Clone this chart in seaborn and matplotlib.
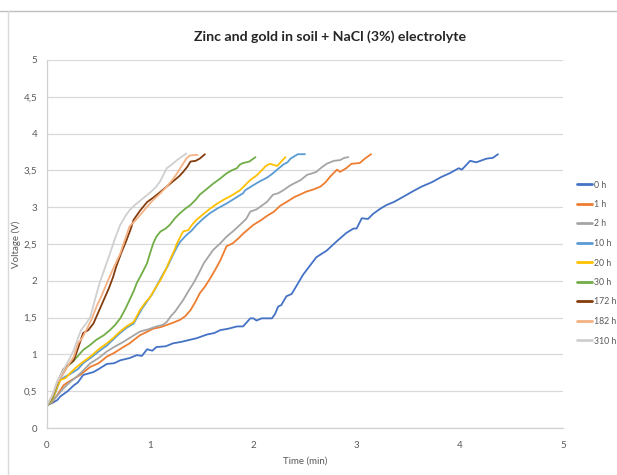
import pandas as pd
import numpy as np
import seaborn as sns
import matplotlib
matplotlib.use("Agg")
import matplotlib.pyplot as plt
from matplotlib.lines import Line2D

# (time in min, voltage in V)
h0 = [(0.0, 0.31), (0.05, 0.34), (0.1, 0.38), (0.13, 0.43), (0.2, 0.5), (0.26, 0.58), (0.3, 0.62),
      (0.35, 0.72), (0.45, 0.76), (0.5, 0.8), (0.58, 0.87), (0.65, 0.88), (0.71, 0.92), (0.8, 0.95),
      (0.87, 0.99), (0.92, 0.98), (0.97, 1.07), (1.02, 1.05), (1.06, 1.10), (1.15, 1.11), (1.22, 1.15),
      (1.3, 1.17), (1.39, 1.20), (1.45, 1.22), (1.55, 1.27), (1.62, 1.29), (1.68, 1.33), (1.76, 1.35),
      (1.84, 1.38), (1.9, 1.38), (1.97, 1.49), (2.0, 1.49), (2.03, 1.46), (2.08, 1.49), (2.18, 1.49),
      (2.21, 1.55), (2.24, 1.65), (2.27, 1.67), (2.32, 1.79), (2.37, 1.82), (2.43, 1.96), (2.48, 2.08),
      (2.55, 2.21), (2.61, 2.32), (2.71, 2.41), (2.81, 2.54), (2.9, 2.65), (2.97, 2.71), (3.0, 2.71),
      (3.05, 2.85), (3.11, 2.84), (3.16, 2.91), (3.23, 2.98), (3.29, 3.03), (3.36, 3.07), (3.45, 3.14),
      (3.55, 3.22), (3.63, 3.28), (3.73, 3.34), (3.82, 3.41), (3.9, 3.46), (3.99, 3.53), (4.02, 3.51),
      (4.1, 3.63), (4.16, 3.61), (4.26, 3.66), (4.32, 3.67), (4.37, 3.72)]

h1 = [(0.0, 0.31), (0.05, 0.35), (0.1, 0.45), (0.16, 0.58), (0.2, 0.62), (0.26, 0.67), (0.32, 0.72),
      (0.42, 0.83), (0.5, 0.88), (0.58, 0.97), (0.65, 1.02), (0.74, 1.10), (0.8, 1.15), (0.9, 1.26),
      (0.96, 1.30), (1.03, 1.35), (1.1, 1.37), (1.16, 1.40), (1.22, 1.43), (1.29, 1.47), (1.34, 1.52),
      (1.39, 1.60), (1.44, 1.72), (1.48, 1.83), (1.53, 1.92), (1.58, 2.03), (1.63, 2.15), (1.68, 2.28),
      (1.74, 2.47), (1.8, 2.51), (1.85, 2.57), (1.9, 2.64), (1.95, 2.70), (2.0, 2.76), (2.07, 2.82),
      (2.13, 2.88), (2.2, 2.94), (2.26, 3.02), (2.32, 3.07), (2.4, 3.14), (2.45, 3.17), (2.51, 3.21),
      (2.58, 3.24), (2.65, 3.28), (2.7, 3.34), (2.74, 3.41), (2.81, 3.51), (2.84, 3.48), (2.9, 3.53),
      (2.95, 3.59), (3.03, 3.60), (3.08, 3.66), (3.14, 3.72)]

h2 = [(0.0, 0.30), (0.05, 0.36), (0.1, 0.44), (0.16, 0.54), (0.22, 0.62), (0.29, 0.70), (0.35, 0.78),
      (0.42, 0.88), (0.5, 0.95), (0.58, 1.04), (0.65, 1.10), (0.74, 1.17), (0.82, 1.24), (0.9, 1.31),
      (0.98, 1.34), (1.06, 1.38), (1.12, 1.40), (1.16, 1.44), (1.2, 1.52), (1.24, 1.58), (1.28, 1.66),
      (1.32, 1.74), (1.37, 1.86), (1.42, 1.97), (1.47, 2.10), (1.52, 2.24), (1.56, 2.32), (1.61, 2.42),
      (1.68, 2.51), (1.74, 2.60), (1.8, 2.67), (1.87, 2.76), (1.93, 2.84), (1.97, 2.94), (2.03, 2.97),
      (2.06, 3.00), (2.13, 3.07), (2.19, 3.17), (2.24, 3.19), (2.29, 3.23), (2.35, 3.29), (2.39, 3.32),
      (2.46, 3.37), (2.52, 3.44), (2.57, 3.46), (2.61, 3.48), (2.66, 3.54), (2.71, 3.59), (2.78, 3.63),
      (2.84, 3.64), (2.88, 3.67), (2.92, 3.68)]

h10 = [(0.0, 0.31), (0.05, 0.37), (0.1, 0.55), (0.13, 0.66), (0.18, 0.70), (0.22, 0.73), (0.3, 0.80),
       (0.35, 0.88), (0.42, 0.95), (0.51, 1.05), (0.58, 1.12), (0.64, 1.20), (0.7, 1.28), (0.77, 1.36),
       (0.84, 1.42), (0.88, 1.52), (0.92, 1.62), (0.97, 1.72), (1.02, 1.82), (1.07, 1.95), (1.12, 2.08),
       (1.17, 2.20), (1.22, 2.35), (1.26, 2.46), (1.29, 2.53), (1.35, 2.62), (1.4, 2.68), (1.45, 2.76),
       (1.51, 2.84), (1.58, 2.92), (1.66, 2.99), (1.74, 3.05), (1.82, 3.12), (1.9, 3.19), (1.92, 3.23),
       (2.0, 3.30), (2.06, 3.35), (2.13, 3.40), (2.18, 3.45), (2.23, 3.51), (2.29, 3.58), (2.33, 3.61),
       (2.36, 3.66), (2.43, 3.72), (2.5, 3.72)]

h20 = [(0.0, 0.31), (0.05, 0.38), (0.1, 0.56), (0.13, 0.65), (0.18, 0.68), (0.22, 0.74), (0.28, 0.82),
       (0.35, 0.90), (0.42, 0.97), (0.51, 1.08), (0.58, 1.15), (0.64, 1.22), (0.7, 1.30), (0.77, 1.38),
       (0.84, 1.44), (0.87, 1.52), (0.9, 1.60), (0.95, 1.70), (1.0, 1.78), (1.05, 1.90), (1.1, 2.01),
       (1.15, 2.15), (1.19, 2.28), (1.23, 2.40), (1.26, 2.51), (1.3, 2.62), (1.32, 2.67), (1.37, 2.69),
       (1.41, 2.77), (1.45, 2.83), (1.51, 2.90), (1.58, 2.98), (1.64, 3.04), (1.71, 3.10), (1.79, 3.16),
       (1.87, 3.23), (1.92, 3.30), (1.97, 3.37), (2.03, 3.43), (2.08, 3.50), (2.12, 3.56), (2.16, 3.59),
       (2.23, 3.56), (2.27, 3.62), (2.31, 3.68)]

h30 = [(0.0, 0.30), (0.05, 0.40), (0.1, 0.60), (0.13, 0.70), (0.19, 0.83), (0.25, 0.90), (0.3, 0.98),
       (0.35, 1.06), (0.41, 1.12), (0.48, 1.20), (0.55, 1.26), (0.61, 1.33), (0.66, 1.40), (0.71, 1.49),
       (0.76, 1.62), (0.8, 1.74), (0.84, 1.86), (0.87, 1.97), (0.92, 2.10), (0.97, 2.24), (1.0, 2.38),
       (1.03, 2.51), (1.06, 2.60), (1.1, 2.67), (1.15, 2.71), (1.19, 2.76), (1.24, 2.85), (1.29, 2.92),
       (1.34, 2.98), (1.39, 3.03), (1.44, 3.10), (1.48, 3.17), (1.55, 3.25), (1.61, 3.32), (1.67, 3.38),
       (1.74, 3.46), (1.79, 3.50), (1.84, 3.53), (1.87, 3.58), (1.9, 3.60), (1.96, 3.62), (2.02, 3.68)]

h172 = [(0.0, 0.31), (0.05, 0.42), (0.1, 0.62), (0.16, 0.80), (0.21, 0.86), (0.26, 0.92), (0.3, 1.08),
        (0.35, 1.29), (0.4, 1.33), (0.45, 1.42), (0.5, 1.58), (0.55, 1.74), (0.6, 1.90), (0.64, 2.05),
        (0.67, 2.19), (0.72, 2.38), (0.77, 2.55), (0.81, 2.70), (0.84, 2.83), (0.9, 2.95), (0.97, 3.07),
        (1.03, 3.13), (1.1, 3.21), (1.16, 3.28), (1.22, 3.35), (1.28, 3.42), (1.32, 3.48), (1.36, 3.55),
        (1.39, 3.62), (1.44, 3.63), (1.48, 3.66), (1.53, 3.72)]

h182 = [(0.0, 0.31), (0.05, 0.43), (0.1, 0.62), (0.16, 0.74), (0.21, 0.86), (0.26, 0.97), (0.3, 1.15),
        (0.34, 1.22), (0.38, 1.33), (0.43, 1.47), (0.48, 1.65), (0.53, 1.80), (0.58, 1.97), (0.64, 2.16),
        (0.71, 2.37), (0.76, 2.58), (0.8, 2.74), (0.85, 2.81), (0.9, 2.89), (0.96, 2.99), (1.03, 3.10),
        (1.1, 3.19), (1.16, 3.28), (1.22, 3.38), (1.26, 3.46), (1.3, 3.55), (1.35, 3.66), (1.38, 3.70),
        (1.43, 3.71), (1.46, 3.71)]

h310 = [(0.0, 0.31), (0.05, 0.44), (0.1, 0.64), (0.16, 0.79), (0.21, 0.92), (0.26, 1.06), (0.3, 1.22),
        (0.33, 1.33), (0.38, 1.42), (0.42, 1.51), (0.46, 1.72), (0.51, 1.97), (0.56, 2.17), (0.61, 2.37),
        (0.66, 2.58), (0.71, 2.76), (0.76, 2.88), (0.8, 2.96), (0.86, 3.04), (0.93, 3.12), (1.0, 3.20),
        (1.06, 3.28), (1.1, 3.36), (1.16, 3.53), (1.21, 3.58), (1.26, 3.64), (1.3, 3.68), (1.35, 3.73)]

labels = ["0 h", "1 h", "2 h", "10 h", "20 h", "30 h", "172 h", "182 h", "310 h"]
series = [h0, h1, h2, h10, h20, h30, h172, h182, h310]
colors = ["#4472C4", "#ED7D31", "#A5A5A5", "#5B9BD5", "#FFC000", "#70AD47", "#843C0C", "#F4B183", "#CFCFCF"]

x_ticks = [0, 1, 2, 3, 4, 5]
y_ticks = [0, 0.5, 1, 1.5, 2, 2.5, 3, 3.5, 4, 4.5, 5]

rows = []
for name, pts in zip(labels, series):
    for t, v in pts:
        rows.append({"Time": t, "Voltage": v, "series": name})
df = pd.DataFrame(rows)

sns.set_style("white")
plt.rcParams['font.family'] = ['Lato', 'DejaVu Sans']

fig = plt.figure(figsize=(6.17, 4.75), dpi=100)
ax = fig.add_axes([47 / 617, 1 - 428 / 475, (563 - 47) / 617, (428 - 60) / 475])

sns.lineplot(data=df, x="Time", y="Voltage", hue="series", hue_order=labels,
             palette=dict(zip(labels, colors)), sort=False, estimator=None,
             linewidth=1.3, ax=ax, legend=True)

ax.set_xlim(0, 5)
ax.set_ylim(0, 5)
ax.set_xticks(x_ticks)
ax.set_xticklabels([str(x) for x in x_ticks])
ax.set_yticks(y_ticks)
ax.set_yticklabels([("%g" % y).replace(".", ",") for y in y_ticks])
ax.yaxis.grid(True, color="#D9D9D9", linewidth=0.9)
ax.xaxis.grid(False)
ax.set_axisbelow(True)

for s in ["top", "right"]:
    ax.spines[s].set_visible(False)
for s in ["left", "bottom"]:
    ax.spines[s].set_color("#D0D0D0")
    ax.spines[s].set_linewidth(0.9)
ax.tick_params(axis="x", length=4, color="#C8C8C8", labelsize=7, labelcolor="#595959", pad=5)
ax.tick_params(axis="y", length=4, color="#D9D9D9", labelsize=7, labelcolor="#595959", pad=3)

ax.set_xlabel("Time (min)", fontsize=7, color="#595959", labelpad=5)
ax.set_ylabel("Voltage (V)", fontsize=7, color="#595959")
ax.yaxis.set_label_coords((21 - 47) / 516, 0.5)

fig.text(330 / 617, 1 - 37 / 475, "Zinc and gold in soil + NaCl (3%) electrolyte",
         ha="center", va="center", fontsize=10.2, fontweight="bold", color="#262626")

handles, _ = ax.get_legend_handles_labels()
ax.get_legend().remove()
for h in handles:
    h.set_linewidth(2)
fig.legend(handles, labels, loc="center left", bbox_to_anchor=(577 / 617, 1 - 263 / 475),
           frameon=False, fontsize=6.3, labelcolor="#595959", handlelength=1.7,
           handletextpad=0.3, labelspacing=1.2, borderpad=0, borderaxespad=0)

# outer chart-area border
fig.add_artist(Line2D([0, 1], [1 - 11 / 475, 1 - 11 / 475], color="#BFBFBF", linewidth=1))
fig.add_artist(Line2D([8 / 617, 8 / 617], [0, 1 - 11 / 475], color="#D9D9D9", linewidth=1))

fig.savefig("out.png", dpi=100)
